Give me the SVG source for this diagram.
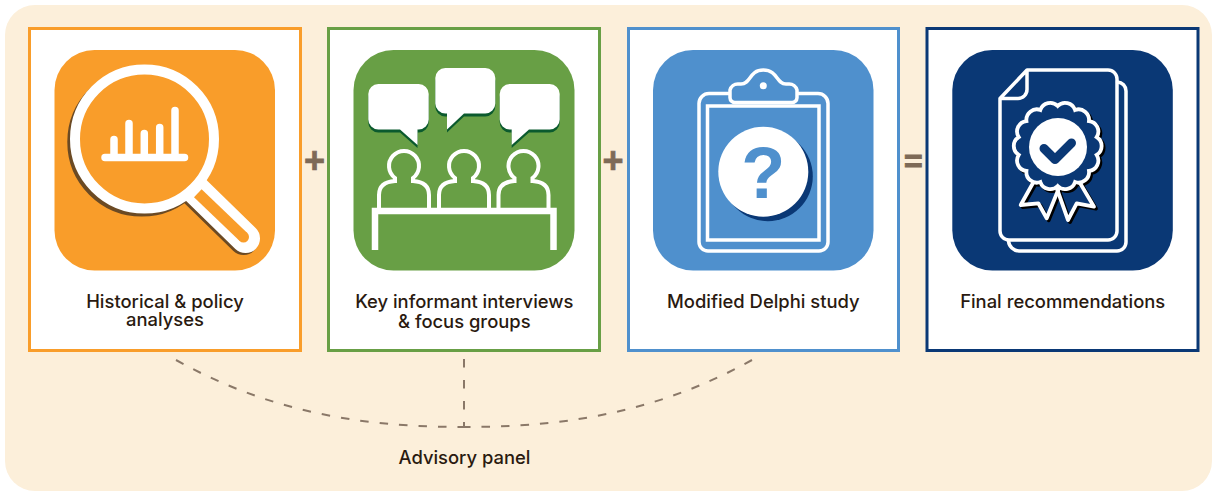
<svg xmlns="http://www.w3.org/2000/svg" width="1212" height="491" viewBox="0 0 1212 491">
<style>
.card{fill:#fff;stroke-width:3}
.lbl{font-family:"Inter","Liberation Sans",sans-serif;font-size:18.4px;font-weight:500;fill:#2a1a10;text-anchor:middle}
.op{font-family:"Liberation Sans",sans-serif;font-weight:700;font-size:36px;fill:#7e6a57;stroke:#7e6a57;stroke-width:.7;text-anchor:middle}
.w{fill:none;stroke:#fff;stroke-linecap:round;stroke-linejoin:round}
.dash{fill:none;stroke:#8a7868;stroke-width:2}
</style>
<defs>
<path id="person" d="M-25 208V195Q-25 182-9 181L-9 178A15 15 0 1 1 9 178L9 181Q25 182 25 195V208" fill="none" stroke="#fff" stroke-width="4"/>
<path id="scallop" d="M0-40A10.500 10.500 0 0 1 17.350-36.040A10.500 10.500 0 0 1 31.270-24.940A10.500 10.500 0 0 1 39-8.900A10.500 10.500 0 0 1 39 8.900A10.500 10.500 0 0 1 31.270 24.940A10.500 10.500 0 0 1 17.350 36.040A10.500 10.500 0 0 1 0 40A10.500 10.500 0 0 1-17.350 36.040A10.500 10.500 0 0 1-31.270 24.940A10.500 10.500 0 0 1-39 8.900A10.500 10.500 0 0 1-39-8.900A10.500 10.500 0 0 1-31.270-24.940A10.500 10.500 0 0 1-17.350-36.040A10.500 10.500 0 0 1 0-40Z"/>
</defs>
<rect id="background" x="5" y="5" width="1207" height="486" rx="30" fill="#fcefda"/>
<g id="connectors">
<path class="dash" stroke-dasharray="8.500 11" d="M176 360C280 418 380 427 464 427"/>
<path class="dash" stroke-dasharray="8.500 11" d="M752 360C648 418 548 427 464 427"/>
<path class="dash" stroke-dasharray="8.500 12.500" d="M464 359V428"/>
</g>
<g id="operators">
<text class="op" x="314.500" y="173">+</text>
<text class="op" x="613" y="173">+</text>
<text class="op" x="913.300" y="171.700" style="font-size:32px;stroke-width:1">=</text>
</g>
<g id="node-historical">
<rect class="card" x="29.500" y="28.500" width="271" height="322" stroke="#f99d2a"/>
<rect x="54.500" y="50" width="220.500" height="220.500" rx="40" fill="#f99d2a"/>
<g fill="none" stroke="#6b4a24">
<circle cx="141.800" cy="142" r="69.500" stroke-width="10"/>
<path d="M193.800 192L243.500 240.500" stroke-width="29" stroke-linecap="round"/>
</g>
<path d="M195.800 190L245.500 238.500" stroke="#fff" stroke-width="29" stroke-linecap="round" fill="none"/>
<circle cx="144.500" cy="139" r="69.500" fill="#f99d2a" stroke="#fff" stroke-width="10"/>
<path d="M197.800 193.200L243.500 237" stroke="#f99d2a" stroke-width="11" fill="none"/>
<circle cx="243.500" cy="237" r="5.500" fill="#f99d2a"/>
<path class="w" stroke-width="7.500" d="M105 157.500H184.500M114 157V139.500M129 157V123.500M144.300 157V133.500M159.700 157V127.500M175 157V110.500"/>
<text class="lbl" x="165" y="308">Historical &amp; policy</text>
<text class="lbl" x="165" y="326">analyses</text>
</g>
<g id="node-interviews">
<rect class="card" x="328.500" y="28.500" width="271" height="322" stroke="#689f45"/>
<rect x="353.500" y="50" width="221" height="220.500" rx="40" fill="#689f45"/>
<g fill="#0b5a2e">
<path d="M378.300 87H418.700A10 10 0 0 1 428.700 97V122.500A10 10 0 0 1 418.700 132.500H417.500V148L400 132.500H378.300A10 10 0 0 1 368.300 122.500V97A10 10 0 0 1 378.300 87Z"/>
<path d="M445.300 71H485.300A10 10 0 0 1 495.300 81V106.500A10 10 0 0 1 485.300 116.500H464L447 132.500V116.500H445.300A10 10 0 0 1 435.300 106.500V81A10 10 0 0 1 445.300 71Z"/>
<path d="M509.700 87H549.700A10 10 0 0 1 559.700 97V122.500A10 10 0 0 1 549.700 132.500H529L511.700 148V132.500H509.700A10 10 0 0 1 499.700 122.500V97A10 10 0 0 1 509.700 87Z"/>
</g>
<g fill="#fff">
<path d="M378.300 84H418.700A10 10 0 0 1 428.700 94V119.500A10 10 0 0 1 418.700 129.500H417.500V145L400 129.500H378.300A10 10 0 0 1 368.300 119.500V94A10 10 0 0 1 378.300 84Z"/>
<path d="M445.300 68H485.300A10 10 0 0 1 495.300 78V103.500A10 10 0 0 1 485.300 113.500H464L447 129.500V113.500H445.300A10 10 0 0 1 435.300 103.500V78A10 10 0 0 1 445.300 68Z"/>
<path d="M509.700 84H549.700A10 10 0 0 1 559.700 94V119.500A10 10 0 0 1 549.700 129.500H529L511.700 145V129.500H509.700A10 10 0 0 1 499.700 119.500V94A10 10 0 0 1 509.700 84Z"/>
</g>
<use href="#person" x="404" y="0"/>
<use href="#person" x="464" y="0"/>
<use href="#person" x="523.500" y="0"/>
<path d="M375 250V211H553.500V250" fill="none" stroke="#fff" stroke-width="6.500"/>
<text class="lbl" x="464.300" y="308">Key informant interviews</text>
<text class="lbl" x="464.300" y="328.300">&amp; focus groups</text>
</g>
<g id="node-delphi">
<rect class="card" x="628.500" y="28.500" width="270" height="322" stroke="#4f90cd"/>
<rect x="653" y="50" width="220.500" height="220.500" rx="40" fill="#4f90cd"/>
<path class="w" stroke-width="3.500" d="M729 93.500H709A10 10 0 0 0 699 103.500V242A9 9 0 0 0 708 251H819A9 9 0 0 0 828 242V103.500A10 10 0 0 0 818 93.500H798"/>
<path fill="none" stroke="#fff" stroke-width="3.500" d="M707.500 106H819V240H707.500Z"/>
<path class="w" stroke-width="3.500" d="M736 102.500H791A5 5 0 0 0 797 97.500V90A8 8 0 0 0 789 84H786C776 84 778 70 763.300 70C749 70 751 84 741 84H738A8 8 0 0 0 730 90V97.500A5 5 0 0 0 736 102.500Z"/>
<circle cx="763.300" cy="85.700" r="3.500" fill="#fff"/>
<circle cx="767.800" cy="176.200" r="45" fill="#0a3875"/>
<circle cx="763.300" cy="171.700" r="45" fill="#fff"/>
<text x="763.300" y="198" font-family="Liberation Sans, sans-serif" font-weight="700" font-size="72" fill="#4f90cd" text-anchor="middle">?</text>
<text class="lbl" x="763.300" y="308">Modified Delphi study</text>
</g>
<g id="node-final">
<rect class="card" x="927" y="28.500" width="271" height="322" stroke="#0a3875"/>
<rect x="952.300" y="50" width="220.500" height="220.500" rx="40" fill="#0a3875"/>
<path class="w" stroke-width="3.500" d="M1117.500 82A9 9 0 0 1 1126 91V242A9 9 0 0 1 1117 251H1019A11 11 0 0 1 1008.500 241"/>
<path class="w" stroke-width="3.500" d="M1027 70H1108A9 9 0 0 1 1117 79V231A9 9 0 0 1 1108 240H1009A9 9 0 0 1 1000 231V98.500ZM1000 98.500H1018A9 9 0 0 0 1027 89.500V70"/>
<g transform="translate(2 2)" fill="none" stroke="#000" stroke-width="3.800" stroke-linejoin="round">
<path d="M1033 183L1020.700 205L1038.300 203.300L1046.700 218.300L1059 188"/>
<path d="M1080 183L1094 206.700L1076.700 203.300L1068 220L1056.700 188"/>
<use href="#scallop" x="1057.700" y="146"/>
</g>
<path class="w" stroke-width="3.800" d="M1033 183L1020.700 205L1038.300 203.300L1046.700 218.300L1059 188"/>
<path class="w" stroke-width="3.800" d="M1080 183L1094 206.700L1076.700 203.300L1068 220L1056.700 188"/>
<use href="#scallop" x="1057.700" y="146" fill="#0a3875" stroke="#fff" stroke-width="3.800"/>
<circle cx="1058" cy="147" r="29" fill="#fff"/>
<path d="M1044 148.500L1055 159.500L1071.500 143" fill="none" stroke="#0a3875" stroke-width="9" stroke-linecap="round" stroke-linejoin="round"/>
<text class="lbl" x="1062.700" y="308">Final recommendations</text>
</g>
<g id="node-advisory">
<text class="lbl" x="464.500" y="464">Advisory panel</text>
</g>
</svg>
